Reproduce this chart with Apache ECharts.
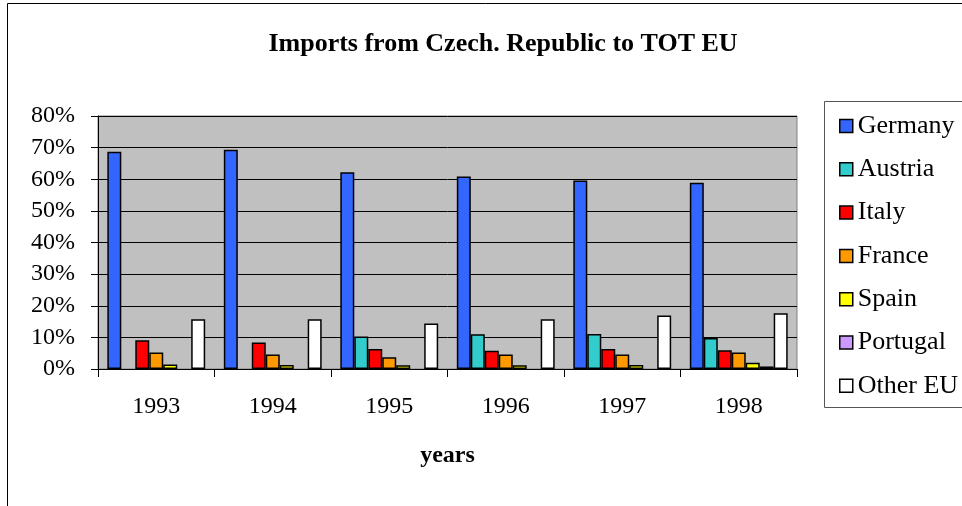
<!DOCTYPE html>
<html>
<head>
<meta charset="utf-8">
<script src="https://cdn.jsdelivr.net/npm/echarts@6/dist/echarts.min.js"></script>
<style>
  html, body { margin: 0; padding: 0; background: #fff; }
  #chart { width: 962px; height: 506px; }
</style>
</head>
<body>
<div id="chart"></div>
<script>
// Share of EU imports coming from the Czech Republic, by destination country (%)
const years = ['1993', '1994', '1995', '1996', '1997', '1998'];
const countries = ['Germany', 'Austria', 'Italy', 'France', 'Spain', 'Portugal', 'Other EU'];
const germany  = [68.7, 69.3, 62.2, 60.9, 59.6, 58.9];
const austria  = [null, null, 10.3, 11.0, 11.1, 9.8];
const italy    = [9.1, 8.4, 6.3, 5.8, 6.3, 5.9];
const france   = [5.2, 4.6, 3.7, 4.6, 4.6, 5.2];
const spain    = [1.4, 1.3, 1.2, 1.2, 1.3, 2.0];
const portugal = [null, null, null, null, null, 0.8];
const otherEU  = [15.7, 15.7, 14.4, 15.7, 16.9, 17.6];
const yTicks = { min: 0, max: 80, step: 10 };

const seriesValues = [germany, austria, italy, france, spain, portugal, otherEU];
const colors = ['#3366ff', '#33cccc', '#ff0000', '#ff9900', '#ffff00', '#cc99ff', '#ffffff'];
const serif = '"Liberation Serif", "Times New Roman", serif';

const chart = echarts.init(document.getElementById('chart'), null, { renderer: 'canvas' });

chart.setOption({
  animation: false,
  backgroundColor: '#ffffff',
  title: {
    text: 'Imports from Czech. Republic to TOT EU',
    left: 498, top: 26, textAlign: 'center',
    textStyle: { fontFamily: serif, fontSize: 26, fontWeight: 'bold', color: '#000' }
  },
  graphic: [
    { type: 'rect', shape: { x: 7.5, y: 3.5, width: 970, height: 520 },
      style: { fill: 'none', stroke: '#000', lineWidth: 1 }, silent: true, z: -1 },
    { type: 'rect', shape: { x: 824.5, y: 101.5, width: 160, height: 306 },
      style: { fill: '#fff', stroke: '#555', lineWidth: 1 }, silent: true, z: 0 }
  ],
  legend: {
    orient: 'vertical',
    left: 834, top: 108,
    itemWidth: 13, itemHeight: 13,
    itemGap: 17.3,
    icon: 'rect',
    data: countries,
    itemStyle: { borderColor: '#000', borderWidth: 1.5 },
    textStyle: { fontFamily: serif, fontSize: 26, color: '#000', padding: [0, 0, 0, 0] },
    z: 5
  },
  grid: {
    left: 98, top: 116, width: 699, height: 253,
    show: true, backgroundColor: '#c0c0c0', borderColor: '#808080', borderWidth: 1
  },
  xAxis: {
    type: 'category',
    data: years,
    name: 'years',
    nameLocation: 'middle',
    nameGap: 75,
    nameTextStyle: { fontFamily: serif, fontSize: 24, fontWeight: 'bold', color: '#000' },
    axisLine: { lineStyle: { color: '#000', width: 1 } },
    axisTick: { show: true, alignWithLabel: false, length: 8, lineStyle: { color: '#000' } },
    axisLabel: { fontFamily: serif, fontSize: 24, color: '#000', margin: 26 }
  },
  yAxis: {
    type: 'value',
    min: yTicks.min, max: yTicks.max, interval: yTicks.step,
    axisLine: { show: true, lineStyle: { color: '#000', width: 1 } },
    axisTick: { show: true, length: 7, lineStyle: { color: '#000' } },
    axisLabel: { fontFamily: serif, fontSize: 24, color: '#000', margin: 23, formatter: '{value}%' },
    splitLine: { show: true, lineStyle: { color: '#000', width: 1 } }
  },
  series: countries.map((name, i) => ({
    name: name,
    type: 'bar',
    data: seriesValues[i],
    barGap: '0%',
    barCategoryGap: '16%',
    itemStyle: { color: colors[i], borderColor: '#000', borderWidth: 1.5 }
  }))
});
</script>
</body>
</html>
